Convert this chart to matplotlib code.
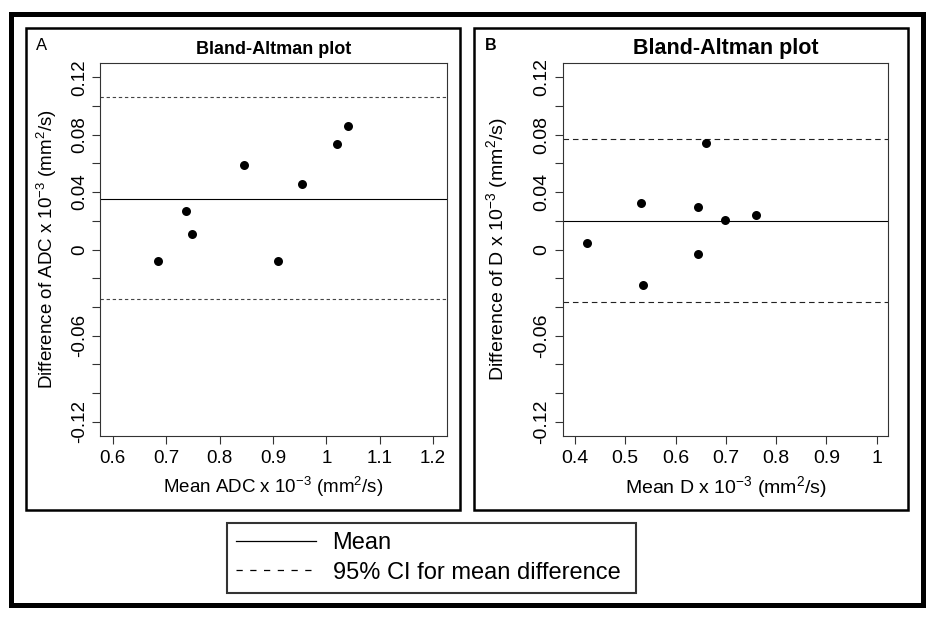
import numpy as np
import matplotlib
matplotlib.use("Agg")
import matplotlib.pyplot as plt
from matplotlib.patches import Rectangle
from matplotlib.lines import Line2D

plt.rcParams['font.family'] = ['Liberation Sans', 'DejaVu Sans']
plt.rcParams['mathtext.fontset'] = 'custom'
plt.rcParams['mathtext.rm'] = 'Liberation Sans'
plt.rcParams['mathtext.default'] = 'regular'

# --- data ---
adc_mean = [0.685, 0.737, 0.748, 0.846, 0.909, 0.954, 1.020, 1.040]
adc_diff = [-0.0077, 0.0265, 0.0107, 0.0590, -0.0077, 0.0454, 0.0733, 0.0860]
adc_bias = 0.0355
adc_ci = [-0.0345, 0.1063]

d_mean = [0.4245, 0.5307, 0.5346, 0.6452, 0.6440, 0.6600, 0.6980, 0.7600]
d_diff = [0.0046, 0.0323, -0.0244, 0.0297, -0.0028, 0.0739, 0.0209, 0.0241]
d_bias = 0.0197
d_ci = [-0.0367, 0.0771]

y_ticks = [0.12, 0.10, 0.08, 0.06, 0.04, 0.02, 0.0, -0.02, -0.04, -0.06, -0.08, -0.10, -0.12]
y_ticklabels = ["0.12", "", "0.08", "", "0.04", "", "0", "", "", "-0.06", "", "", "-0.12"]
adc_xticks = [0.6, 0.7, 0.8, 0.9, 1.0, 1.1, 1.2]
adc_xticklabels = ["0.6", "0.7", "0.8", "0.9", "1", "1.1", "1.2"]
d_xticks = [0.4, 0.5, 0.6, 0.7, 0.8, 0.9, 1.0]
d_xticklabels = ["0.4", "0.5", "0.6", "0.7", "0.8", "0.9", "1"]

W, H = 937, 619
fig = plt.figure(figsize=(W / 100, H / 100), dpi=100)


def px_rect(x0, y0, x1, y1):
    # pixel box (top-left origin) -> figure fraction
    return [x0 / W, 1 - y1 / H, (x1 - x0) / W, (y1 - y0) / H]


def frame(x0, y0, x1, y1, lw):
    r = Rectangle((x0 / W, 1 - y1 / H), (x1 - x0) / W, (y1 - y0) / H,
                  transform=fig.transFigure, fill=False, edgecolor='black',
                  linewidth=lw, zorder=0)
    fig.patches.append(r)


frame(11.5, 13.5, 923.5, 605, 3.6)
frame(26, 28, 460.5, 509.7, 1.8)
frame(474, 28, 908, 509.7, 1.8)


def ba_panel(ax, x, y, bias, ci, xlim, xticks, xticklabels, xlab, ylab,
             fs, title_size, ylab_x, dash_col, dash):
    ax.scatter(x, y, s=42, color='black', zorder=3, linewidths=0)
    l_mean = ax.axhline(bias, color='black', lw=0.8)
    for c in ci:
        ax.axhline(c, color=dash_col, lw=0.8, linestyle=(0, dash))
    ax.set_xlim(*xlim)
    ax.set_ylim(-0.13, 0.13)
    ax.set_xticks(xticks)
    ax.set_xticklabels(xticklabels, fontsize=fs)
    ax.set_yticks(y_ticks)
    ax.set_yticklabels(y_ticklabels, fontsize=fs, rotation=90, va='center')
    ax.tick_params(axis='both', direction='out', length=5.8, width=0.8,
                   color='#333333')
    ax.tick_params(axis='x', pad=4.5)
    ax.tick_params(axis='y', pad=3)
    for s in ax.spines.values():
        s.set_color('#333333')
        s.set_linewidth(0.8)
    ax.set_xlabel(xlab, fontsize=fs, va='center')
    ax.xaxis.set_label_coords(0.5, -(487 - 436) / 373)
    ax.set_ylabel(ylab, fontsize=fs, va='center')
    ax.yaxis.set_label_coords(ylab_x, 0.5)
    ax.set_title("Bland-Altman plot", fontweight='bold', fontsize=title_size,
                 pad=6.3)
    return l_mean


ax1 = fig.add_axes(px_rect(100, 63, 447, 436))
ba_panel(ax1, adc_mean, adc_diff, adc_bias, adc_ci,
         (0.576, 1.226), adc_xticks, adc_xticklabels,
         r"Mean ADC x 10$^{-3}$ (mm$^{2}$/s)",
         r"Difference of ADC x 10$^{-3}$ (mm$^{2}$/s)",
         13.5, 13, -53.3 / 347, '#444444', (3, 2.5))

ax2 = fig.add_axes(px_rect(562.7, 63, 888.3, 436))
ba_panel(ax2, d_mean, d_diff, d_bias, d_ci,
         (0.3755, 1.023), d_xticks, d_xticklabels,
         r"Mean D x 10$^{-3}$ (mm$^{2}$/s)",
         r"Difference of D x 10$^{-3}$ (mm$^{2}$/s)",
         14, 15.5, -66 / 325.6, '#222222', (5, 3.5))

fig.text(42 / W, 1 - 45 / H, "A", fontsize=12, ha='center', va='center')
fig.text(490.7 / W, 1 - 45 / H, "B", fontsize=11.5, fontweight='bold',
         ha='center', va='center')

leg_mean = Line2D([], [], color='black', lw=0.9)
leg_ci = Line2D([], [], color='black', lw=0.9, linestyle=(0, (5, 6)))
leg = fig.legend([leg_mean, leg_ci], ["Mean", "95% CI for mean difference"],
                 loc='upper left',
                 bbox_to_anchor=(227 / W, 1 - 589 / H, 409 / W, 66 / H),
                 mode='expand',
                 borderaxespad=0, fontsize=17, frameon=True, fancybox=False,
                 edgecolor='black', handlelength=3.35, handletextpad=0.72,
                 labelspacing=0.3, borderpad=0.4)
leg.get_frame().set_linewidth(1.5)

fig.savefig("out.png", dpi=100)
